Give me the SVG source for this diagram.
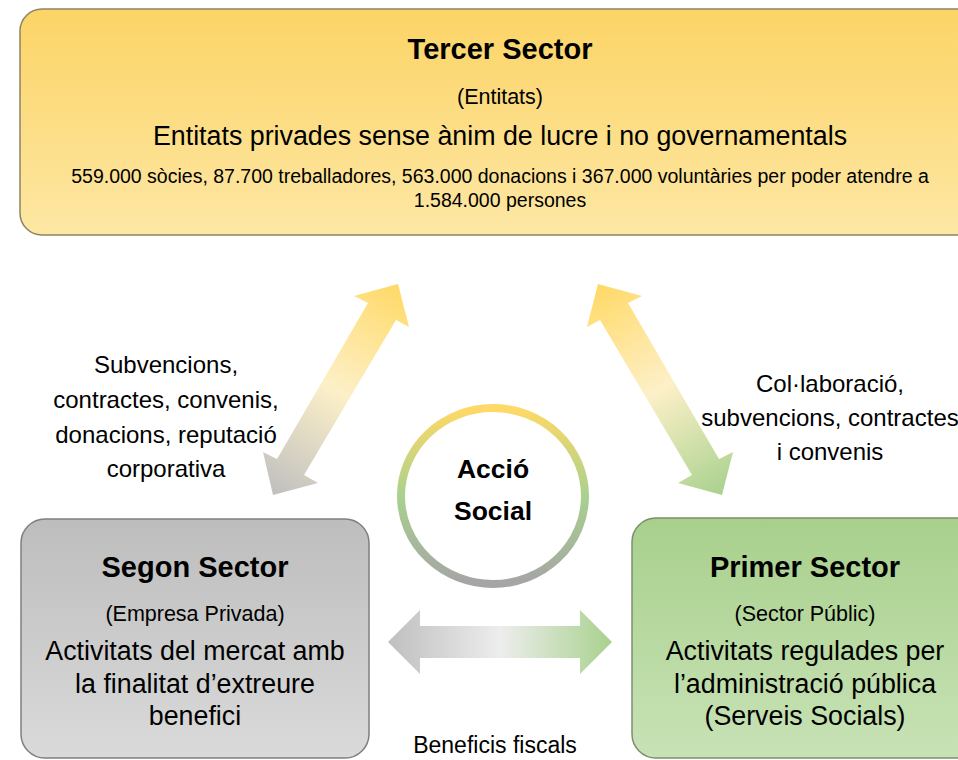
<svg xmlns="http://www.w3.org/2000/svg" width="958" height="760" viewBox="0 0 958 760">
<defs>
<linearGradient id="gYellow" x1="0" y1="0" x2="0" y2="1"><stop offset="0" stop-color="#FCD466"/><stop offset="1" stop-color="#FDE7A4"/></linearGradient>
<linearGradient id="gGray" x1="0" y1="0" x2="0" y2="1"><stop offset="0" stop-color="#BDBDBD"/><stop offset="1" stop-color="#DADADA"/></linearGradient>
<linearGradient id="gGreen" x1="0" y1="0" x2="0" y2="1"><stop offset="0" stop-color="#A8D08C"/><stop offset="1" stop-color="#C8E2B6"/></linearGradient>
<linearGradient id="gRing" x1="0" y1="0" x2="0" y2="1"><stop offset="0" stop-color="#FFD966"/><stop offset="0.5" stop-color="#A9D18E"/><stop offset="1" stop-color="#A5A5A5"/></linearGradient>
<linearGradient id="gArrL" gradientUnits="userSpaceOnUse" x1="398" y1="284" x2="273" y2="495"><stop offset="0" stop-color="#FFD966"/><stop offset="0.5" stop-color="#FDF0C8"/><stop offset="1" stop-color="#BFBFBF"/></linearGradient>
<linearGradient id="gArrR" gradientUnits="userSpaceOnUse" x1="598" y1="284" x2="722" y2="495"><stop offset="0" stop-color="#FFD966"/><stop offset="0.5" stop-color="#FDF0C8"/><stop offset="1" stop-color="#A9D18E"/></linearGradient>
<linearGradient id="gArrH" gradientUnits="userSpaceOnUse" x1="388" y1="0" x2="612" y2="0"><stop offset="0" stop-color="#BFBFBF"/><stop offset="0.5" stop-color="#EDEDED"/><stop offset="1" stop-color="#A9D18E"/></linearGradient>
<style>
text{font-family:"Liberation Sans",Arial,sans-serif;fill:#000;text-anchor:middle}
.title{font-size:29px;font-weight:bold}
.sub{font-size:21.5px}
.body{font-size:26.8px}
.small{font-size:19.5px}
.lbl{font-size:24px}
.box{stroke-width:1.5}
</style>
</defs>
<g id="tercer-sector">
<rect class="box" x="20" y="9" width="970" height="226" rx="22" fill="url(#gYellow)" stroke="#8C8464"/>
<text class="title" x="500" y="59">Tercer Sector</text>
<text class="sub" x="500" y="104">(Entitats)</text>
<text class="body" x="500" y="145">Entitats privades sense ànim de lucre i no governamentals</text>
<text class="small" x="500" y="183">559.000 sòcies, 87.700 treballadores, 563.000 donacions i 367.000 voluntàries per poder atendre a</text>
<text class="small" x="500" y="207">1.584.000 persones</text>
</g>
<g id="segon-sector">
<rect class="box" x="21" y="519" width="348" height="239" rx="24" fill="url(#gGray)" stroke="#7F7F7F"/>
<text class="title" x="195" y="577">Segon Sector</text>
<text class="sub" x="195" y="621">(Empresa Privada)</text>
<text class="body" x="195" y="660">Activitats del mercat amb</text>
<text class="body" x="195" y="693">la finalitat d’extreure</text>
<text class="body" x="195" y="725">benefici</text>
</g>
<g id="primer-sector">
<rect class="box" x="632" y="518" width="360" height="240" rx="24" fill="url(#gGreen)" stroke="#7D8E6E"/>
<text class="title" x="805" y="577">Primer Sector</text>
<text class="sub" x="805" y="621">(Sector Públic)</text>
<text class="body" x="805" y="660">Activitats regulades per</text>
<text class="body" x="805" y="693">l’administració pública</text>
<text class="body" x="805" y="725">(Serveis Socials)</text>
</g>
<g id="accio-social">
<ellipse cx="493" cy="496" rx="92" ry="88" fill="#FFFFFF" stroke="url(#gRing)" stroke-width="8"/>
<text x="493" y="478" style="font-size:26.5px;font-weight:bold">Acció</text>
<text x="493" y="520" style="font-size:26.5px;font-weight:bold">Social</text>
</g>
<g id="connectors">
<polygon points="398,284 409,327 396,320 304,475 318,483 273,495 263,452 277,459 368,303 354,296" fill="url(#gArrL)"/>
<polygon points="598,284 642,296 628,303 719,459 733,452 722,495 678,483 692,475 600,320 587,327" fill="url(#gArrR)"/>
<polygon points="388,642 420,610 420,626 580,626 580,610 612,642 580,674 580,658 420,658 420,674" fill="url(#gArrH)"/>
<g id="label-left">
<text class="lbl" x="166" y="373">Subvencions,</text>
<text class="lbl" x="166" y="408">contractes, convenis,</text>
<text class="lbl" x="166" y="443">donacions, reputació</text>
<text class="lbl" x="166" y="477">corporativa</text>
</g>
<g id="label-right">
<text class="lbl" x="830" y="392">Col·laboració,</text>
<text class="lbl" x="830" y="426">subvencions, contractes</text>
<text class="lbl" x="830" y="460">i convenis</text>
</g>
<text id="label-bottom" x="495" y="753" style="font-size:23px">Beneficis fiscals</text>
</g>
</svg>
